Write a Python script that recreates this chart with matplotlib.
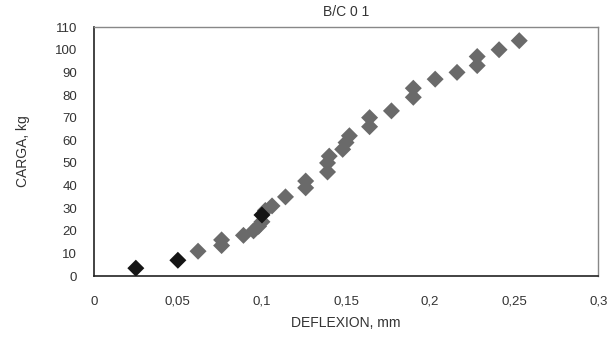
import matplotlib.pyplot as plt
from matplotlib.ticker import FuncFormatter

plt.rcParams['font.family'] = ['Liberation Sans', 'DejaVu Sans']

# first readings (dark markers)
x_dark = [0.025, 0.050, 0.100]
y_dark = [3.5, 7, 27]

# remaining readings (gray markers)
x_gray = [0.062, 0.076, 0.076, 0.089, 0.095, 0.098, 0.100, 0.102, 0.106,
          0.114, 0.126, 0.126, 0.139, 0.139, 0.140, 0.148, 0.150, 0.152,
          0.164, 0.164, 0.177, 0.190, 0.190, 0.203, 0.216, 0.228, 0.228,
          0.241, 0.253]
y_gray = [11, 13.5, 16, 18, 20, 22, 24, 29, 31,
          35, 39, 42, 46, 50, 53, 56, 59, 62,
          66, 70, 73, 79, 83, 87, 90, 93, 97,
          100, 104]

fig = plt.figure(figsize=(6.13, 3.43), dpi=100)
ax = fig.add_axes([0.153, 0.195, 0.823, 0.726])

ax.scatter(x_gray, y_gray, marker='D', s=75, color='#6a6a6a', edgecolors='none', zorder=3)
ax.scatter(x_dark, y_dark, marker='D', s=75, color='#151515', edgecolors='none', zorder=4)

ax.set_xlim(0, 0.3)
ax.set_ylim(0, 110)
ax.set_xticks([0, 0.05, 0.1, 0.15, 0.2, 0.25, 0.3])
ax.set_yticks(range(0, 111, 10))

def comma(v, pos):
    s = ('%.2f' % v).rstrip('0').rstrip('.')
    return s.replace('.', ',')

ax.xaxis.set_major_formatter(FuncFormatter(comma))
ax.tick_params(axis='x', length=0, pad=14, labelsize=9.5, colors='#333333')
ax.tick_params(axis='y', length=0, pad=12, labelsize=9.5, colors='#333333')

for side in ['left', 'bottom']:
    ax.spines[side].set_color('#222222')
    ax.spines[side].set_linewidth(1.2)
for side in ['top', 'right']:
    ax.spines[side].set_color('#888888')
    ax.spines[side].set_linewidth(1.0)

ax.set_title('B/C 0 1', fontsize=10, color='#333333', pad=8)
ax.set_xlabel('DEFLEXION, mm', fontsize=10, color='#333333', labelpad=6)
ax.set_ylabel('CARGA, kg', fontsize=10, color='#333333', labelpad=18)

fig.savefig('out.png', dpi=100)
